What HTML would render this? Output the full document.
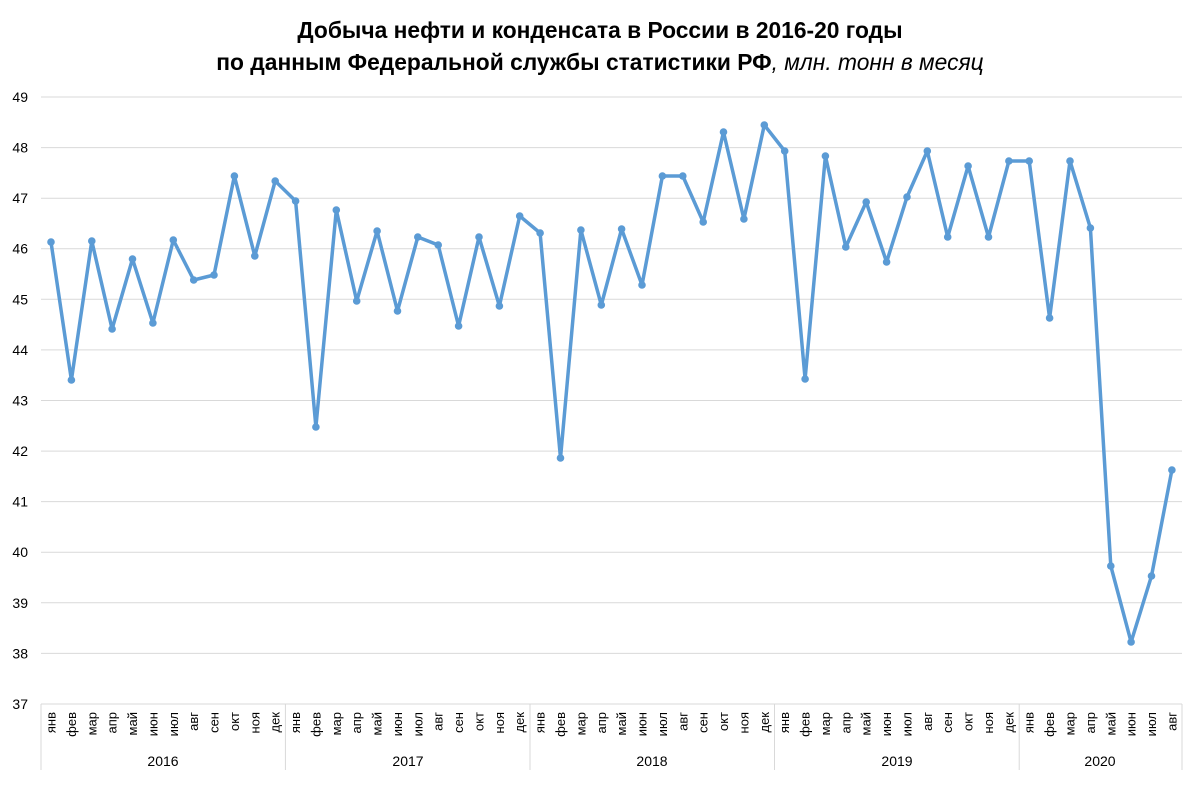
<!DOCTYPE html>
<html><head><meta charset="utf-8"><style>
body{margin:0;background:#fff;}
svg text{font-family:"Liberation Sans",sans-serif;fill:#000;}
</style></head><body>
<svg width="1200" height="780" xmlns="http://www.w3.org/2000/svg">
<text x="600" y="38" text-anchor="middle" font-size="22.8" font-weight="bold">Добыча нефти и конденсата в России в 2016-20 годы</text>
<text x="600" y="70" text-anchor="middle" font-size="22.8"><tspan font-weight="bold">по данным Федеральной службы статистики РФ</tspan><tspan font-style="italic">, млн. тонн в месяц</tspan></text>
<g stroke="#d9d9d9" stroke-width="1">
<line x1="41" x2="1182" y1="97" y2="97"/><line x1="41" x2="1182" y1="147.6" y2="147.6"/><line x1="41" x2="1182" y1="198.2" y2="198.2"/><line x1="41" x2="1182" y1="248.7" y2="248.7"/><line x1="41" x2="1182" y1="299.3" y2="299.3"/><line x1="41" x2="1182" y1="349.9" y2="349.9"/><line x1="41" x2="1182" y1="400.5" y2="400.5"/><line x1="41" x2="1182" y1="451.1" y2="451.1"/><line x1="41" x2="1182" y1="501.6" y2="501.6"/><line x1="41" x2="1182" y1="552.2" y2="552.2"/><line x1="41" x2="1182" y1="602.8" y2="602.8"/><line x1="41" x2="1182" y1="653.4" y2="653.4"/><line x1="41" x2="1182" y1="704" y2="704"/>
<line x1="41" x2="41" y1="704" y2="770"/><line x1="285.4" x2="285.4" y1="704" y2="770"/><line x1="530" x2="530" y1="704" y2="770"/><line x1="774.5" x2="774.5" y1="704" y2="770"/><line x1="1019.2" x2="1019.2" y1="704" y2="770"/><line x1="1182" x2="1182" y1="704" y2="770"/>
</g>
<g font-size="14" text-anchor="end">
<text x="28" y="102">49</text><text x="28" y="152.6">48</text><text x="28" y="203.2">47</text><text x="28" y="253.7">46</text><text x="28" y="304.3">45</text><text x="28" y="354.9">44</text><text x="28" y="405.5">43</text><text x="28" y="456.1">42</text><text x="28" y="506.6">41</text><text x="28" y="557.2">40</text><text x="28" y="607.8">39</text><text x="28" y="658.4">38</text><text x="28" y="709">37</text>
</g>
<g font-size="13" text-anchor="end">
<text transform="translate(55.5,712) rotate(-90)">янв</text><text transform="translate(75.9,712) rotate(-90)">фев</text><text transform="translate(96.3,712) rotate(-90)">мар</text><text transform="translate(116.6,712) rotate(-90)">апр</text><text transform="translate(137,712) rotate(-90)">май</text><text transform="translate(157.4,712) rotate(-90)">июн</text><text transform="translate(177.8,712) rotate(-90)">июл</text><text transform="translate(198.2,712) rotate(-90)">авг</text><text transform="translate(218.5,712) rotate(-90)">сен</text><text transform="translate(238.9,712) rotate(-90)">окт</text><text transform="translate(259.3,712) rotate(-90)">ноя</text><text transform="translate(279.7,712) rotate(-90)">дек</text>
<text transform="translate(300.1,712) rotate(-90)">янв</text><text transform="translate(320.4,712) rotate(-90)">фев</text><text transform="translate(340.8,712) rotate(-90)">мар</text><text transform="translate(361.2,712) rotate(-90)">апр</text><text transform="translate(381.6,712) rotate(-90)">май</text><text transform="translate(402,712) rotate(-90)">июн</text><text transform="translate(422.3,712) rotate(-90)">июл</text><text transform="translate(442.7,712) rotate(-90)">авг</text><text transform="translate(463.1,712) rotate(-90)">сен</text><text transform="translate(483.5,712) rotate(-90)">окт</text><text transform="translate(503.9,712) rotate(-90)">ноя</text><text transform="translate(524.2,712) rotate(-90)">дек</text>
<text transform="translate(544.6,712) rotate(-90)">янв</text><text transform="translate(565,712) rotate(-90)">фев</text><text transform="translate(585.4,712) rotate(-90)">мар</text><text transform="translate(605.8,712) rotate(-90)">апр</text><text transform="translate(626.1,712) rotate(-90)">май</text><text transform="translate(646.5,712) rotate(-90)">июн</text><text transform="translate(666.9,712) rotate(-90)">июл</text><text transform="translate(687.3,712) rotate(-90)">авг</text><text transform="translate(707.7,712) rotate(-90)">сен</text><text transform="translate(728,712) rotate(-90)">окт</text><text transform="translate(748.4,712) rotate(-90)">ноя</text><text transform="translate(768.8,712) rotate(-90)">дек</text>
<text transform="translate(789.2,712) rotate(-90)">янв</text><text transform="translate(809.6,712) rotate(-90)">фев</text><text transform="translate(829.9,712) rotate(-90)">мар</text><text transform="translate(850.3,712) rotate(-90)">апр</text><text transform="translate(870.7,712) rotate(-90)">май</text><text transform="translate(891.1,712) rotate(-90)">июн</text><text transform="translate(911.5,712) rotate(-90)">июл</text><text transform="translate(931.8,712) rotate(-90)">авг</text><text transform="translate(952.2,712) rotate(-90)">сен</text><text transform="translate(972.6,712) rotate(-90)">окт</text><text transform="translate(993,712) rotate(-90)">ноя</text><text transform="translate(1013.4,712) rotate(-90)">дек</text>
<text transform="translate(1033.7,712) rotate(-90)">янв</text><text transform="translate(1054.1,712) rotate(-90)">фев</text><text transform="translate(1074.5,712) rotate(-90)">мар</text><text transform="translate(1094.9,712) rotate(-90)">апр</text><text transform="translate(1115.3,712) rotate(-90)">май</text><text transform="translate(1135.6,712) rotate(-90)">июн</text><text transform="translate(1156,712) rotate(-90)">июл</text><text transform="translate(1176.4,712) rotate(-90)">авг</text>
</g>
<g font-size="14" text-anchor="middle">
<text x="163" y="766">2016</text><text x="408" y="766">2017</text><text x="652" y="766">2018</text><text x="897" y="766">2019</text><text x="1100" y="766">2020</text>
</g>
<polyline fill="none" stroke="#5b9bd5" stroke-width="3.5" stroke-linejoin="round" points="51,242 71.4,380 91.8,241 112.1,329 132.5,259 152.9,323 173.3,240 193.7,280 214,275 234.4,176 254.8,256 275.2,181 295.6,201 315.9,427 336.3,210 356.7,301 377.1,231 397.5,311 417.8,237 438.2,245 458.6,326 479,237 499.4,306 519.7,216 540.1,233 560.5,458 580.9,230 601.3,305 621.6,229 642,285 662.4,176 682.8,176 703.2,222 723.5,132 743.9,219 764.3,125 784.7,151 805.1,379 825.4,156 845.8,247 866.2,202 886.6,262 907,197 927.3,151 947.7,237 968.1,166 988.5,237 1008.9,161 1029.2,161 1049.6,318 1070,161 1090.4,228 1110.8,566 1131.1,642 1151.5,576 1171.9,470"/>
<g fill="#5b9bd5">
<circle cx="51" cy="242" r="3.8"/><circle cx="71.4" cy="380" r="3.8"/><circle cx="91.8" cy="241" r="3.8"/><circle cx="112.1" cy="329" r="3.8"/><circle cx="132.5" cy="259" r="3.8"/><circle cx="152.9" cy="323" r="3.8"/><circle cx="173.3" cy="240" r="3.8"/><circle cx="193.7" cy="280" r="3.8"/><circle cx="214" cy="275" r="3.8"/><circle cx="234.4" cy="176" r="3.8"/><circle cx="254.8" cy="256" r="3.8"/><circle cx="275.2" cy="181" r="3.8"/>
<circle cx="295.6" cy="201" r="3.8"/><circle cx="315.9" cy="427" r="3.8"/><circle cx="336.3" cy="210" r="3.8"/><circle cx="356.7" cy="301" r="3.8"/><circle cx="377.1" cy="231" r="3.8"/><circle cx="397.5" cy="311" r="3.8"/><circle cx="417.8" cy="237" r="3.8"/><circle cx="438.2" cy="245" r="3.8"/><circle cx="458.6" cy="326" r="3.8"/><circle cx="479" cy="237" r="3.8"/><circle cx="499.4" cy="306" r="3.8"/><circle cx="519.7" cy="216" r="3.8"/>
<circle cx="540.1" cy="233" r="3.8"/><circle cx="560.5" cy="458" r="3.8"/><circle cx="580.9" cy="230" r="3.8"/><circle cx="601.3" cy="305" r="3.8"/><circle cx="621.6" cy="229" r="3.8"/><circle cx="642" cy="285" r="3.8"/><circle cx="662.4" cy="176" r="3.8"/><circle cx="682.8" cy="176" r="3.8"/><circle cx="703.2" cy="222" r="3.8"/><circle cx="723.5" cy="132" r="3.8"/><circle cx="743.9" cy="219" r="3.8"/><circle cx="764.3" cy="125" r="3.8"/>
<circle cx="784.7" cy="151" r="3.8"/><circle cx="805.1" cy="379" r="3.8"/><circle cx="825.4" cy="156" r="3.8"/><circle cx="845.8" cy="247" r="3.8"/><circle cx="866.2" cy="202" r="3.8"/><circle cx="886.6" cy="262" r="3.8"/><circle cx="907" cy="197" r="3.8"/><circle cx="927.3" cy="151" r="3.8"/><circle cx="947.7" cy="237" r="3.8"/><circle cx="968.1" cy="166" r="3.8"/><circle cx="988.5" cy="237" r="3.8"/><circle cx="1008.9" cy="161" r="3.8"/>
<circle cx="1029.2" cy="161" r="3.8"/><circle cx="1049.6" cy="318" r="3.8"/><circle cx="1070" cy="161" r="3.8"/><circle cx="1090.4" cy="228" r="3.8"/><circle cx="1110.8" cy="566" r="3.8"/><circle cx="1131.1" cy="642" r="3.8"/><circle cx="1151.5" cy="576" r="3.8"/><circle cx="1171.9" cy="470" r="3.8"/>
</g>
</svg>
</body></html>
